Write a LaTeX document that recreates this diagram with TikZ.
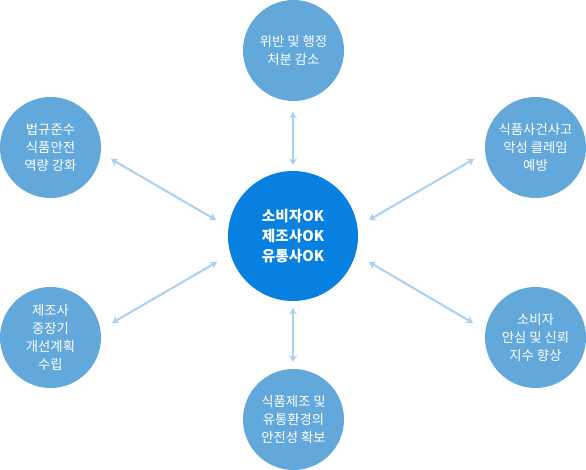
\documentclass[tikz,border=0pt]{standalone}
\usepackage{fontspec}
\setmainfont{Noto Sans CJK KR}
\usetikzlibrary{arrows.meta}
\definecolor{outerblue}{HTML}{63A8DA}
\definecolor{centerblue}{HTML}{0780E0}
\definecolor{arrowblue}{HTML}{A8D2F2}
\tikzset{
  outer/.style={circle, fill=outerblue, minimum size=101*0.75pt, inner sep=0pt, text=white, align=center, font=\fontsize{10}{13.5}\selectfont},
  hub/.style={circle, fill=centerblue, minimum size=130*0.75pt, inner sep=0pt, text=white, align=center, font=\fontsize{11}{15}\selectfont\bfseries},
  link/.style={draw=arrowblue, line width=1.5pt, {Stealth[length=5pt,width=6pt]}-{Stealth[length=5pt,width=6pt]}}
}
\begin{document}
\begin{tikzpicture}[x=0.75pt,y=-0.75pt]
\useasboundingbox (0,0) rectangle (586,470);
\node[hub] (c) at (293,236) {소비자OK\\제조사OK\\유통사OK};
\node[outer] (t) at (293.5,50.5) {위반 및 행정\\처분 감소};
\node[outer] (tl) at (50.5,147.5) {법규준수\\식품안전\\역량 강화};
\node[outer] (tr) at (535.5,147.5) {식품사건사고\\악성 클레임\\예방};
\node[outer] (bl) at (50.5,337.5) {제조사\\중장기\\개선계획\\수립};
\node[outer] (br) at (535.5,337.5) {소비자\\안심 및 신뢰\\지수 향상};
\node[outer] (b) at (293.5,419.5) {식품제조 및\\유통환경의\\안전성 확보};
\coordinate (t1) at (293,112); \coordinate (t2) at (293,165);
\coordinate (b1) at (293,308); \coordinate (b2) at (293,362);
\coordinate (tl1) at (111,159); \coordinate (tl2) at (216,220);
\coordinate (tr1) at (474,159); \coordinate (tr2) at (369,220);
\coordinate (bl1) at (112,323); \coordinate (bl2) at (217,262);
\coordinate (br1) at (473,323); \coordinate (br2) at (369,262);
\draw[link] (t1) -- (t2);
\draw[link] (b1) -- (b2);
\draw[link] (tl1) -- (tl2);
\draw[link] (tr1) -- (tr2);
\draw[link] (bl1) -- (bl2);
\draw[link] (br1) -- (br2);
\end{tikzpicture}
\end{document}
